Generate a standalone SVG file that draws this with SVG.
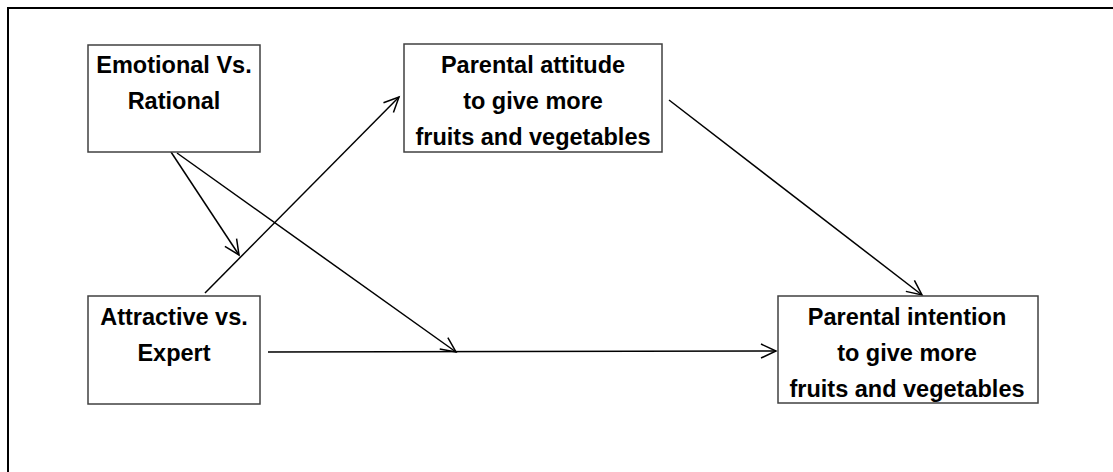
<svg xmlns="http://www.w3.org/2000/svg" width="1113" height="472" viewBox="0 0 1113 472">
  <style>
    .box { fill: #ffffff; stroke: #404040; stroke-width: 1.5; }
    .label { font-family: "Liberation Sans", Arial, sans-serif; font-weight: bold; font-size: 23.5px; fill: #000000; text-anchor: middle; }
    .edge { fill: none; stroke: #000000; stroke-width: 1.5; marker-end: url(#open-arrow); }
  </style>
  <defs>
    <marker id="open-arrow" markerUnits="userSpaceOnUse" markerWidth="20" markerHeight="20" viewBox="-17 -10 20 20" refX="0" refY="0" orient="auto">
      <path d="M-15,-7 L0,0 L-15,7" fill="none" stroke="#000000" stroke-width="1.5"/>
    </marker>
  </defs>

  <rect width="1113" height="472" fill="#ffffff"/>
  <!-- outer frame -->
  <rect x="8" y="8" width="1120" height="480" fill="none" stroke="#000000" stroke-width="2"/>

  <g id="connectors">
    <line class="edge" x1="171" y1="152" x2="239" y2="255"/>
    <line class="edge" x1="177" y1="153" x2="456" y2="352"/>
    <line class="edge" x1="205" y1="293" x2="399" y2="97"/>
    <line class="edge" x1="669" y1="100" x2="922" y2="295"/>
    <line class="edge" x1="268" y1="352" x2="776" y2="351"/>
  </g>

  <g id="emotional-rational">
    <rect class="box" x="88" y="45" width="172" height="107"/>
    <text class="label" x="174" y="73">Emotional Vs.</text>
    <text class="label" x="174" y="109">Rational</text>
  </g>

  <g id="attractive-expert">
    <rect class="box" x="88" y="296" width="172" height="108"/>
    <text class="label" x="174" y="325">Attractive vs.</text>
    <text class="label" x="174" y="361">Expert</text>
  </g>

  <g id="parental-attitude">
    <rect class="box" x="404" y="44" width="258" height="108"/>
    <text class="label" x="533" y="73">Parental attitude</text>
    <text class="label" x="533" y="109">to give more</text>
    <text class="label" x="533" y="145">fruits and vegetables</text>
  </g>

  <g id="parental-intention">
    <rect class="box" x="778" y="296" width="260" height="107"/>
    <text class="label" x="907" y="325">Parental intention</text>
    <text class="label" x="907" y="361">to give more</text>
    <text class="label" x="907" y="397">fruits and vegetables</text>
  </g>
</svg>
